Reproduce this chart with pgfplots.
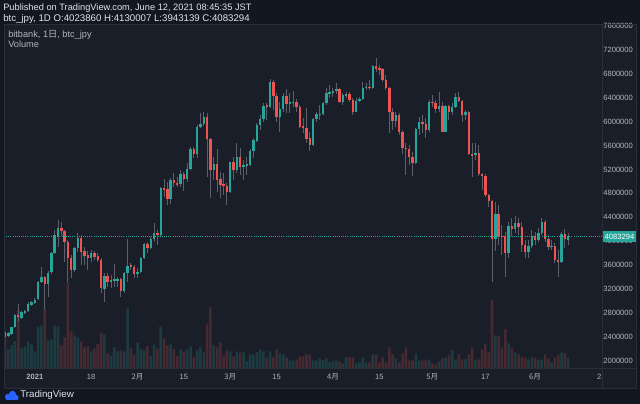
\documentclass[border=0pt]{standalone}
\usepackage{pgfplots}
\pgfplotsset{compat=1.18}
\usepackage{pgfplotstable}
\usetikzlibrary{backgrounds}
\usepackage{fontspec}
\setmainfont{Liberation Sans}
\newfontfamily\jp{Noto Sans CJK JP}

\definecolor{outerbg}{HTML}{131722}
\definecolor{panebg}{HTML}{1A1E29}
\definecolor{linec}{HTML}{2A2E39}
\definecolor{upc}{HTML}{26A69A}
\definecolor{dnc}{HTML}{EF5350}
\definecolor{wickc}{HTML}{5D606B}
\definecolor{vupc}{HTML}{1E3B41}
\definecolor{vdnc}{HTML}{462A32}
\definecolor{txtc}{HTML}{B2B5BE}
\definecolor{headc}{HTML}{E0E3EB}
\definecolor{tvblue}{HTML}{2962FF}

% btc_jpy daily candles, prices in thousand yen, d = days from 1 Jan 2021, v = volume (relative)
\pgfplotstableread{
d o h l c v
-8 2418 2485 2392 2459 19
-7 2447 2569 2435 2559 23
-6 2559 2787 2542 2765 27
-4 2710 2832 2693 2810 20
-3 2798 2848 2782 2827 22
-2 2832 2977 2820 2954 27
-1 2932 2999 2920 2977 24
0 2966 3044 2954 3021 17
1 3033 3334 3016 3312 42
2 3322 3573 3295 3401 43
4 3289 3501 3071 3463 28
5 3479 3824 3456 3797 29
6 3808 4187 3786 4104 43
7 4092 4355 3908 4226 42
12 3518 3908 3489 3881 33
13 3881 4132 3814 4059 31
17 3714 3853 3657 3797 17
21 3200 3473 2987 3423 34
23 3317 3434 3212 3351 13
24 3334 3618 3228 3362 21
25 3351 3406 3238 3362 17
27 3172 3489 3128 3473 17
28 3463 4032 3322 3590 60
31 3451 3546 3379 3489 26
32 3479 3741 3463 3714 19
33 3714 3975 3697 3948 18
35 3891 4075 3864 4037 12
36 4037 4300 3992 4132 24
38 4104 4902 4075 4885 42
41 4701 5053 4623 5024 24
44 4952 5192 4902 5125 19
46 5041 5304 4996 5208 19
47 5208 5581 5192 5538 22
49 5454 5945 5387 5906 18
50 5906 6140 5889 5956 21
51 5956 6167 5928 6084 16
54 5192 5414 5024 5287 23
59 4818 5330 4802 5320 17
61 5192 5638 5136 5404 17
63 5237 5359 5024 5275 16
64 5258 5414 5108 5292 7
65 5280 5538 5258 5515 14
66 5515 5722 5387 5694 14
67 5682 5973 5665 5945 16
68 5945 6112 5861 6045 19
69 6045 6308 6000 6268 17
71 6246 6715 6224 6659 17
74 6084 6335 5832 6207 15
75 6207 6475 6167 6430 14
77 6291 6475 6151 6330 8
78 6318 6514 6251 6335 8
84 5610 6057 5598 6040 8
85 6040 6167 6000 6124 8
86 6112 6279 6028 6134 10
87 6124 6335 6112 6318 8
88 6318 6559 6279 6475 10
89 6463 6614 6392 6492 6
90 6480 6559 6418 6514 7
91 6514 6643 6458 6547 8
93 6335 6475 6279 6447 5
94 6442 6502 6392 6458 11
97 6167 6392 6157 6351 5
98 6351 6418 6335 6380 6
99 6380 6669 6363 6559 11
100 6559 6643 6530 6586 6
102 6559 6949 6547 6932 14
109 6017 6167 5916 6112 10
115 5304 5889 5287 5878 15
116 5878 6084 5777 5990 8
119 5861 6363 5832 6335 9
122 6207 6502 6167 6268 7
124 5832 6279 5822 6258 11
126 6157 6308 6112 6241 18
127 6241 6475 6224 6413 8
130 6112 6196 6028 6167 9
133 5443 5638 5359 5471 8
139 4037 4661 3841 4455 33
143 3802 4321 3719 4254 25
145 4204 4422 4137 4305 16
149 3819 4020 3719 3925 9
150 3925 4187 3886 4092 11
152 4020 4221 3987 4137 8
153 4137 4388 4104 4326 9
156 3903 4020 3853 3925 6
159 3657 4154 3635 4120 16
161 4023.860 4130.007 3943.139 4083.294 11
}\up

\pgfplotstableread{
d o h l c v
-9 2475 2492 2385 2402 35
-5 2765 2949 2664 2726 58
3 3406 3423 2860 3289 60
8 4226 4326 4092 4171 23
9 4171 4192 3657 3992 31
10 3992 4020 3322 3714 86
11 3714 3769 3379 3518 37
14 4059 4104 3602 3824 27
15 3836 3908 3602 3752 21
16 3769 3836 3518 3724 22
18 3797 3836 3685 3741 20
19 3747 3797 3657 3690 24
20 3690 3714 3128 3212 36
22 3423 3463 3238 3322 15
26 3362 3379 3061 3172 18
29 3602 3630 3518 3573 20
30 3573 3602 3379 3451 13
34 3948 3992 3797 3891 22
37 4132 4187 3936 4104 20
39 4885 5036 4745 4869 30
40 4869 4996 4606 4701 23
42 5024 5146 4912 4969 19
43 4969 5069 4902 4952 12
45 5125 5163 4845 5041 17
48 5538 5581 5387 5454 11
52 6084 6140 5079 5710 44
53 5710 5722 4718 5192 61
55 5287 5538 4828 5024 21
56 5036 5163 4718 4935 26
57 4952 5136 4773 4924 13
58 4929 4969 4606 4818 18
60 5320 5414 5024 5192 12
62 5404 5555 5108 5237 16
70 6279 6318 6028 6246 11
72 6659 6698 6196 6435 11
73 6435 6475 6000 6084 19
76 6430 6542 6140 6291 11
79 6335 6375 6167 6251 9
80 6251 6279 5889 5916 12
81 5928 6057 5806 5899 12
82 5899 6224 5638 5710 14
83 5722 5822 5515 5610 14
92 6547 6569 6308 6335 7
95 6458 6492 6335 6363 11
96 6363 6392 6112 6167 11
101 6586 6698 6530 6564 6
103 6932 7061 6837 6877 14
104 6894 6949 6781 6865 6
105 6877 6894 6669 6698 11
106 6698 6781 6530 6559 6
107 6559 6586 5806 6167 21
108 6167 6224 5861 6017 14
110 6112 6140 5777 5822 6
111 5822 5861 5454 5565 15
112 5565 5638 5108 5543 21
113 5543 5610 5275 5414 8
114 5414 5498 5096 5304 8
117 5990 6112 5806 5956 8
118 5956 6057 5722 5861 8
120 6335 6447 6251 6318 5
121 6318 6363 6140 6207 4
123 6268 6335 5822 5832 10
125 6258 6279 6028 6157 13
128 6413 6492 6325 6346 14
129 6346 6363 6000 6112 9
131 6167 6179 5443 5459 14
132 5459 5638 5079 5431 21
134 5471 5610 5096 5120 9
135 5120 5136 4857 5096 19
136 5096 5120 4745 4773 24
137 4773 4785 4577 4678 16
138 4678 4689 3312 4037 68
140 4455 4606 3936 4092 32
141 4092 4271 3769 4065 21
142 4087 4154 3401 3802 39
144 4254 4388 4087 4204 20
146 4305 4388 4104 4238 14
147 4238 4321 3819 3936 11
148 3936 4020 3719 3819 11
151 4092 4154 3936 4020 11
154 4326 4355 3987 4037 14
155 4037 4104 3853 3908 10
157 3925 3970 3635 3685 11
158 3685 3853 3401 3657 13
160 4120 4204 3886 4032 15
}\dn

\pgfplotsset{
  pane/.style={scale only axis, width=449pt, height=257.5pt,
    xmin=-9.3, xmax=171.4, hide axis},
  wick/.style={draw=none, mark=none, forget plot, error bars/.cd, y dir=both, y explicit,
    error mark=none, error bar style={draw=wickc, line width=0.75pt}},
  body/.style={draw=none, mark=none, forget plot, error bars/.cd, y dir=both, y explicit,
    error mark=none, error bar style={draw=#1, line width=1.8pt}},
}
\tikzset{
  ylab/.style={txtc, font=\fontsize{5.7}{6}\selectfont, inner sep=0, xshift=11.6pt},
  xlab/.style={txtc, font=\fontsize{5.7}{6}\selectfont, inner sep=0, yshift=-6.6pt},
}

\begin{document}
\begin{tikzpicture}
% volume overlay
\begin{axis}[pane, ymin=0, ymax=343.3]
  \addplot[ybar, bar width=1.9pt, bar shift=0pt, fill=vupc, draw=none] table[x=d, y=v] {\up};
  \addplot[ybar, bar width=1.9pt, bar shift=0pt, fill=vdnc, draw=none] table[x=d, y=v] {\dn};
\end{axis}

% price candles
\begin{axis}[pane, ymin=1872.8, ymax=7618.3]
  \addplot[wick] table[x=d, y expr={(\thisrow{h}+\thisrow{l})/2}, y error expr={(\thisrow{h}-\thisrow{l})/2}] {\up};
  \addplot[wick] table[x=d, y expr={(\thisrow{h}+\thisrow{l})/2}, y error expr={(\thisrow{h}-\thisrow{l})/2}] {\dn};
  \addplot[body=upc] table[x=d, y expr={(\thisrow{o}+\thisrow{c})/2}, y error expr={max(abs(\thisrow{c}-\thisrow{o})/2,8.4)}] {\up};
  \addplot[body=dnc] table[x=d, y expr={(\thisrow{o}+\thisrow{c})/2}, y error expr={max(abs(\thisrow{c}-\thisrow{o})/2,8.4)}] {\dn};
  \draw[upc, densely dotted, line width=0.6pt] (axis cs:-9.3,4083.294) -- (axis cs:171.4,4083.294);
  \coordinate (BL) at (rel axis cs:0,0);
  \pgfplotsinvokeforeach{2000,2400,...,7600}{\coordinate (y#1) at (axis cs:171.4,#1);}
  \pgfplotsinvokeforeach{0,17,31,45,59,73,90,104,120,136,151,171}{\coordinate (x#1) at (axis cs:#1,1872.8);}
\end{axis}

% everything else in pixel units, placed relative to the axis corner (4,368.3 from top-left)
\begin{scope}[shift={(BL)}, x=0.75pt, y=0.75pt, shift={(-4,-35.7)}]
\path[use as bounding box] (0,0) rectangle (640,404);
\begin{scope}[on background layer]
  \fill[outerbg] (0,0) rectangle (640,404);
  \fill[panebg] (4,16) rectangle (636,379);
\end{scope}

% price scale labels
\foreach \v in {2000,2400,...,7600} {\node[ylab] at (y\v) {\v000};}
% time scale labels
\node[xlab] at (x0) {\textbf{2021}};
\node[xlab] at (x17) {18};
\node[xlab] at (x31) {\jp 2月};
\node[xlab] at (x45) {15};
\node[xlab] at (x59) {\jp 3月};
\node[xlab] at (x73) {15};
\node[xlab] at (x90) {\jp 4月};
\node[xlab] at (x104) {15};
\node[xlab] at (x120) {\jp 5月};
\node[xlab] at (x136) {17};
\node[xlab] at (x151) {\jp 6月};
\node[xlab] at (x171) {21};

% price scale and time scale separators
\fill[panebg] (603.2,16.4) rectangle (635.6,35.3);
\draw[linec, line width=0.75pt] (602.7,16) -- (602.7,379);
\draw[linec, line width=0.75pt] (4,35.7) -- (636,35.7);
\draw[linec, line width=0.75pt] (4,16) rectangle (636,379);

% last price tag
\fill[upc] (603,161.8) rectangle (636,173);
\node[white, font=\fontsize{5.7}{6}\selectfont, inner sep=0] at (619.5,167.4) {4083294};

% header
\node[anchor=west, headc, font=\fontsize{6.95}{8}\selectfont, inner sep=0] at (3,396) {Published on TradingView.com, June 12, 2021 08:45:35 JST};
\node[anchor=west, headc, font=\fontsize{7.25}{8}\selectfont, inner sep=0] at (3,384.6) {btc\_jpy, 1D O:4023860 H:4130007 L:3943139 C:4083294};

% legend inside pane
\node[anchor=west, txtc, font=\fontsize{6.9}{8}\selectfont, inner sep=0] at (8,368.6) {bitbank, 1{\jp 日}, btc\_jpy};
\node[anchor=west, txtc, font=\fontsize{6.9}{8}\selectfont, inner sep=0] at (8,359.4) {Volume};

% logo
\fill[tvblue] (8,7.2) circle (3.0);
\fill[tvblue] (12.5,9.6) circle (3.6);
\fill[tvblue] (16.2,6.6) circle (2.4);
\fill[tvblue] (5.5,4.2) rectangle (18,7.5);
\node[anchor=west, headc, font=\fontsize{7.3}{8}\selectfont, inner sep=0] at (20,8.6) {TradingView};
\end{scope}
\end{tikzpicture}
\end{document}
